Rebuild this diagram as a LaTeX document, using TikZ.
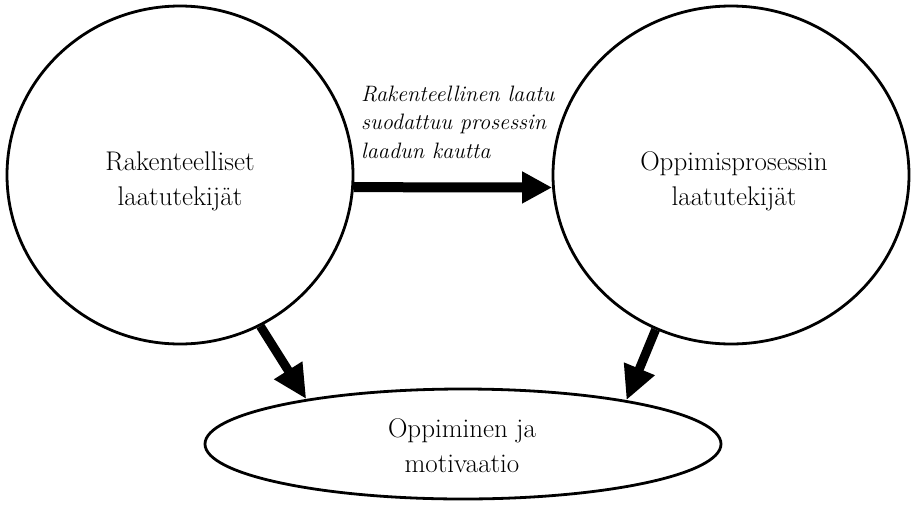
\documentclass[tikz,border=0pt]{standalone}
\usetikzlibrary{shapes.geometric,arrows.meta}
\begin{document}
\begin{tikzpicture}[x=1pt,y=-1pt,
  bubble/.style={draw,ellipse,line width=2.8pt,inner sep=0pt},
  lbl/.style={align=center,inner sep=0pt,font=\fontsize{27}{35}\selectfont},
  note/.style={align=left,inner sep=0pt,anchor=west,font=\itshape\fontsize{22.3}{28.5}\selectfont},
  bigarrow/.style={line width=10pt,-{Triangle[length=30pt,width=30pt]}},
  downarrow/.style={line width=9pt,-{Triangle[length=34pt,width=31pt]}}]
\useasboundingbox (0,0) rectangle (911,504);
\node[bubble,minimum width=346pt,minimum height=338pt] (L) at (180,175) {};
\node[bubble,minimum width=356pt,minimum height=338pt] (R) at (731,175) {};
\node[bubble,minimum width=516pt,minimum height=110pt] (B) at (463,444) {};
\node[lbl] (Lt) at (180,181) {Rakenteelliset\\laatutekijät};
\node[lbl] (Rt) at (734,181) {Oppimisprosessin\\laatutekijät};
\node[lbl] (Bt) at (462,446) {Oppiminen ja\\motivaatio};
\node[note] (N) at (361,122) {Rakenteellinen laatu\\suodattuu prosessin\\laadun kautta};
\draw[bigarrow] (L.-4) -- (R.184);
\draw[downarrow] (L.-62) -- (B.164.4);
\draw[downarrow] (R.244.4) -- (B.15.9);
\end{tikzpicture}
\end{document}
